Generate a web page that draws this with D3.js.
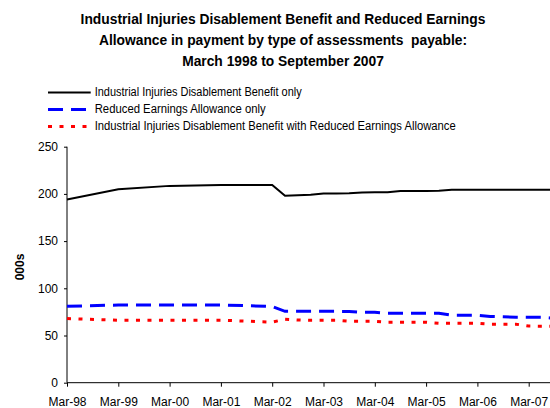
<!DOCTYPE html>
<html><head><meta charset="utf-8">
<script src="https://cdn.jsdelivr.net/npm/d3@7"></script>
<style>body{margin:0;background:#fff}svg{display:block}</style>
</head><body>
<svg id="c" width="550" height="408"></svg>
<script>
const titleLines = ["Industrial Injuries Disablement Benefit and Reduced Earnings","Allowance in payment by type of assessments  payable:","March 1998 to September 2007"];
const seriesNames = ["Industrial Injuries Disablement Benefit only","Reduced Earnings Allowance only","Industrial Injuries Disablement Benefit with Reduced Earnings Allowance"];
const dates = ["Mar-98","Mar-99","Mar-00","Mar-01","Mar-02","Jun-02","Sep-02","Dec-02","Mar-03","Jun-03","Sep-03","Dec-03","Mar-04","Jun-04","Sep-04","Dec-04","Mar-05","Jun-05","Sep-05","Dec-05","Mar-06","Jun-06","Sep-06","Dec-06","Mar-07","Jun-07","Sep-07"];
const iidbOnly = [194,205,208.5,209.3,209.5,198,198.5,199,200.5,200.5,200.6,201.6,201.7,201.8,203,203,203,203.4,204.4,204.5,204.5,204.5,204.5,204.5,204.5,204.5,204.5];
const reaOnly = [81,82.3,82.3,82.3,80.8,75.6,75.6,75.6,75.6,75.6,75.5,74.6,74.6,73.5,73.5,73.5,73.5,73.5,71.4,71.4,71.4,70.2,69.8,69.3,69.3,69.3,68.2];
const both = [68,66.2,66.2,66.2,64.2,67.2,66.4,66.1,66.1,66.1,65.1,65,65,64,64,64,64,63,63,63,63,62,62,62,60,59.8,59.8];
const yTicks = [0,50,100,150,200,250];
const xTickLabels = ["Mar-98","Mar-99","Mar-00","Mar-01","Mar-02","Mar-03","Mar-04","Mar-05","Mar-06","Mar-07"];
const yLabel = "000s";

const months = {Jan:0,Feb:1,Mar:2,Apr:3,May:4,Jun:5,Jul:6,Aug:7,Sep:8,Oct:9,Nov:10,Dec:11};
const mIdx = s => { const [m,y] = s.split("-"); return (1900 + (+y < 50 ? 100 : 0) + +y) * 12 + months[m]; };

const svg = d3.select("#c");
const font = "'Liberation Sans', Arial, sans-serif";
const x = d3.scaleLinear().domain([mIdx("Mar-98"), mIdx("Mar-07")]).range([67, 528.7]);
const y = d3.scaleLinear().domain([0,250]).range([382.7,146.7]);

// title
svg.append("g").selectAll("text").data(titleLines).join("text")
  .attr("x",283).attr("y",(d,i)=>24+i*21)
  .attr("text-anchor","middle").attr("font-family",font).attr("font-weight","bold").attr("font-size","13.8px")
  .style("white-space","pre")
  .attr("fill","#000").text(d=>d);

// legend
const styles = [
  {color:"#000", dash:null, w:2},
  {color:"#0000ff", dash:"15,8", w:3},
  {color:"#ff0000", dash:"4,7.5", w:3}
];
const legendWidths = [207, 171, 361];
const lg = svg.append("g");
seriesNames.forEach((n,i)=>{
  const yy = 92.5 + i*17;
  lg.append("line").attr("x1",48).attr("x2",90.7).attr("y1",yy).attr("y2",yy)
    .attr("stroke",styles[i].color).attr("stroke-width",styles[i].w)
    .attr("stroke-dasharray",styles[i].dash);
  lg.append("text").attr("x",94.7).attr("y",yy+3.5).attr("font-family","'Liberation Sans Narrow', "+font)
    .attr("font-size","12.3px").attr("fill","#000")
    .attr("textLength",legendWidths[i]).attr("lengthAdjust","spacingAndGlyphs").text(n);
});

// axes
const yAxis = d3.axisLeft(y).tickValues(yTicks).tickSize(3).tickPadding(6);
const gy = svg.append("g").attr("transform","translate(67,0)").call(yAxis);
gy.select(".domain").remove();
gy.append("line").attr("x1",0).attr("x2",0).attr("y1",y(250)).attr("y2",y(0)).attr("stroke","#000");
gy.selectAll("text").attr("font-family",font).attr("font-size","12px").attr("fill","#000");
gy.selectAll(".tick line").attr("stroke","#000");

const xAxis = d3.axisBottom(x).tickValues(xTickLabels.map(mIdx)).tickFormat((d,i)=>xTickLabels[i]).tickSize(4).tickPadding(11);
const gx = svg.append("g").attr("transform",`translate(0,${y(0)})`).call(xAxis);
gx.select(".domain").remove();
gx.append("line").attr("x1",67).attr("x2",550).attr("y1",0).attr("y2",0).attr("stroke","#000");
gx.selectAll("text").attr("font-family",font).attr("font-size","12px").attr("fill","#000");
gx.selectAll(".tick line").attr("stroke","#000");

svg.append("text").attr("transform","translate(24,267) rotate(-90)").attr("text-anchor","middle")
  .attr("font-family",font).attr("font-weight","bold").attr("font-size","12px").text(yLabel);

// lines
const line = d3.line().x((d,i)=>x(mIdx(dates[i]))).y(d=>y(d));
[iidbOnly, reaOnly, both].forEach((s,i)=>{
  svg.append("path").datum(s).attr("d",line).attr("fill","none")
    .attr("stroke",styles[i].color).attr("stroke-width",styles[i].w)
    .attr("stroke-dasharray",styles[i].dash);
});
</script>
</body></html>
